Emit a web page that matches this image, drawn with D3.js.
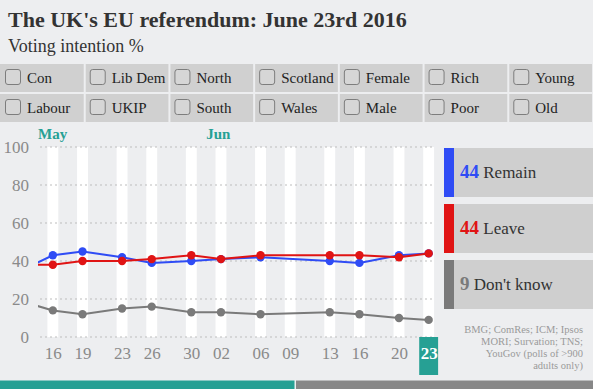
<!DOCTYPE html>
<html><head><meta charset="utf-8">
<script src="https://cdn.jsdelivr.net/npm/d3@7"></script>
<style>
html,body{margin:0;padding:0;background:#edeef0;}
svg{display:block;font-family:"Liberation Serif","Times New Roman",serif;}
</style></head><body>
<svg id="c" width="593" height="389"></svg>
<script>
const title = "The UK's EU referendum: June 23rd 2016";
const subtitle = "Voting intention %";
const filters = [["Con","Lib Dem","North","Scotland","Female","Rich","Young"],
                 ["Labour","UKIP","South","Wales","Male","Poor","Old"]];
const pollDates = ["2016-05-14","2016-05-16","2016-05-19","2016-05-23","2016-05-26","2016-05-30","2016-06-02","2016-06-06","2016-06-13","2016-06-16","2016-06-20","2016-06-23"];
const remain =   [38, 43, 45, 42, 39, 40, 41, 42, 40, 39, 43, 44];
const leave =    [38, 38, 40, 40, 41, 43, 41, 43, 43, 43, 42, 44];
const dontKnow = [17, 14, 12, 15, 16, 13, 13, 12, 13, 12, 10, 9];
const tickDates = ["2016-05-16","2016-05-19","2016-05-23","2016-05-26","2016-05-30","2016-06-02","2016-06-06","2016-06-09","2016-06-13","2016-06-16","2016-06-20","2016-06-23"];
const monthLabels = [["May","2016-05-01"],["Jun","2016-06-01"]];
const yTicks = [0,20,40,60,80,100];
const seriesNames = ["Remain","Leave","Don't know"];
const seriesColors = ["#2f4cf5","#e01414","#7a7a7a"];
const sourceLines = ["BMG; ComRes; ICM; Ipsos","MORI; Survation; TNS;","YouGov (polls of >900","adults only)"];

const parse = d3.utcParse("%Y-%m-%d");
const svg = d3.select("#c");
const teal = "#26a094";
const serif = "Liberation Serif, Times New Roman, serif";

svg.append("text").attr("x",8).attr("y",27).attr("font-size",22).attr("font-weight","bold").attr("fill","#333").text(title);
svg.append("text").attr("x",8).attr("y",52).attr("font-size",18).attr("fill","#333").text(subtitle);

// filter grid
const cw = 593/7;
filters.forEach((row,ri)=>{
  row.forEach((lab,ci)=>{
    const x0 = ci*cw, y0 = 64 + ri*30;
    svg.append("rect").attr("x",x0+(ci?1:0)).attr("y",y0).attr("width",cw-(ci?2:1)).attr("height",28).attr("fill","#d0d0d0");
    svg.append("rect").attr("x",x0+5.5).attr("y",y0+5.5).attr("width",15).attr("height",15).attr("rx",2.5)
      .attr("fill","#d6d6d6").attr("stroke","#7d7d7d").attr("stroke-width",1);
    svg.append("text").attr("x",x0+27).attr("y",y0+19).attr("font-size",15).attr("fill","#222").text(lab);
  });
});

// chart
const x = d3.scaleUtc().domain([new Date(Date.UTC(2016,4,14,12)), new Date(Date.UTC(2016,5,23,12))]).range([38, 433.6]);
const y = d3.scaleLinear().domain([0,100]).range([337,147]);
const dayW = x(parse("2016-05-17"))-x(parse("2016-05-16"));

svg.append("defs").append("clipPath").attr("id","clip").append("rect")
  .attr("x",38).attr("y",140).attr("width",400).attr("height",200);

const td = tickDates.map(parse);
svg.append("g").selectAll("rect").data(td).join("rect")
  .attr("x",d=>x(d)-dayW/2-0.5).attr("width",dayW+1).attr("y",y(100)).attr("height",y(0)-y(100)).attr("fill","#ffffff");

svg.append("g").selectAll("line").data(yTicks).join("line")
  .attr("x1",40).attr("x2",433).attr("y1",d=>y(d)).attr("y2",d=>y(d))
  .attr("stroke","#bdbdbd").attr("stroke-dasharray","2,3").attr("stroke-width",1);

const yAxis = d3.axisLeft(y).tickValues(yTicks).tickSize(0).tickPadding(0);
const gy = svg.append("g").attr("transform","translate(29,0)").call(yAxis);
gy.select(".domain").remove();
gy.selectAll("text").attr("font-family",serif).attr("font-size",17).attr("fill","#8a8a8a");

// highlight last tick
const last = td[td.length-1];
svg.append("rect").attr("x",x(last)-dayW/2-0.5).attr("width",dayW+1+8).attr("y",337).attr("height",38).attr("fill",teal)
  .attr("transform","translate(-4,0)");

const xAxis = d3.axisBottom(x).tickValues(td).tickFormat(d3.utcFormat("%d")).tickSize(0).tickPadding(0);
const gx = svg.append("g").attr("transform","translate(0,347)").call(xAxis);
gx.select(".domain").remove();
gx.selectAll("text").attr("font-family",serif).attr("font-size",17).attr("fill","#8a8a8a")
  .filter((d,i)=>i===td.length-1).attr("fill","#fff").attr("font-weight","bold");

monthLabels.forEach(([m,d])=>{
  const px = Math.max(38, x(parse(d))-dayW/2);
  svg.append("text").attr("x",px).attr("y",139).attr("font-size",15).attr("font-weight","bold").attr("fill",teal).text(m);
});

const pd = pollDates.map(parse);
const series = [remain, leave, dontKnow];
const g = svg.append("g").attr("clip-path","url(#clip)");
[2,0,1].forEach(si=>{
  const vals = series[si];
  const pts = pd.map((d,i)=>[x(d),y(vals[i])]);
  g.append("path").attr("d",d3.line()(pts)).attr("fill","none").attr("stroke",seriesColors[si]).attr("stroke-width",2);
  g.selectAll(null).data(pts.slice(1)).join("circle").attr("cx",p=>p[0]).attr("cy",p=>p[1]).attr("r",4.2).attr("fill",seriesColors[si]);
});

// legend boxes
seriesNames.forEach((n,i)=>{
  const y0 = 148 + i*56;
  svg.append("rect").attr("x",444).attr("y",y0).attr("width",149).attr("height",49).attr("fill","#cfcfcf");
  svg.append("rect").attr("x",444).attr("y",y0).attr("width",10).attr("height",49).attr("fill",seriesColors[i]);
  const t = svg.append("text").attr("x",460).attr("y",y0+30).attr("font-size",19);
  const vals = series[i];
  t.append("tspan").attr("font-weight","bold").attr("fill",seriesColors[i]).text(vals[vals.length-1]);
  t.append("tspan").attr("fill","#333").attr("font-size",17).text(" "+n);
});

sourceLines.forEach((l,i)=>{
  svg.append("text").attr("x",583).attr("y",333+i*12).attr("text-anchor","end").attr("font-size",10.5).attr("fill","#9a9a9a").text(l);
});

svg.append("rect").attr("x",0).attr("y",380.5).attr("width",294.5).attr("height",10).attr("fill",teal);
svg.append("rect").attr("x",296).attr("y",380.5).attr("width",297).attr("height",10).attr("fill","#878787");
</script></body></html>
